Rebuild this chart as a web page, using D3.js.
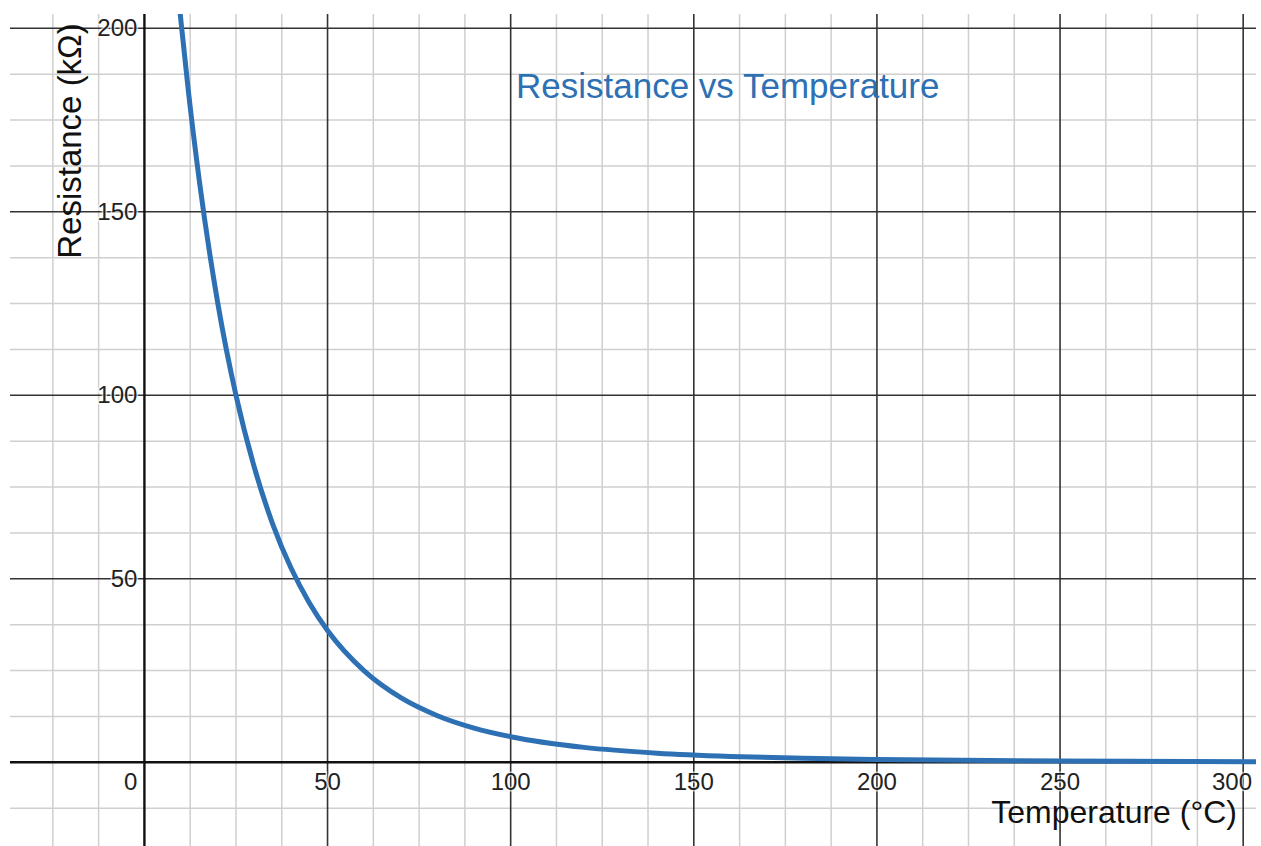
<!DOCTYPE html>
<html>

<head>
    <meta charset="utf-8">
    <title>Resistance vs Temperature</title>
    <script src="https://d3js.org/d3.v7.min.js"></script>
    <style>
        html,
        body {
            margin: 0;
            padding: 0;
            background: white;
        }

        svg text {
            font-family: "Liberation Sans", Arial, sans-serif;
        }
    </style>
</head>

<body>

    <div id="chart"></div>

    <script>
        // Curve samples (temperature in °C, resistance in kΩ)
        const temperatures = [9, 10, 12, 15, 20, 25, 30, 35, 40, 45, 50, 60, 70, 80, 90, 100, 120, 140, 160, 180, 200, 250, 305];
        const resistances = [212, 201.7, 182.9, 158.4, 125.3, 100, 80.4, 65.0, 53.0, 43.5, 35.9, 24.9, 17.6, 12.7, 9.33, 6.98, 4.07, 2.50, 1.61, 1.08, 0.75, 0.34, 0.16];

        // Tick labels
        const xTickLabels = [50, 100, 150, 200, 250, 300];
        const yTickLabels = [50, 100, 150, 200];

        const titleText = "Resistance vs Temperature";
        const xAxisTitle = "Temperature (°C)";
        const yAxisTitle = "Resistance (kΩ)";

        const width = 1261;
        const height = 846;
        const plot = { left: 10, top: 14, right: 1256, bottom: 846 };

        const svg = d3.select("#chart")
            .append("svg")
            .attr("width", width)
            .attr("height", height);

        svg.append("rect")
            .attr("width", width)
            .attr("height", height)
            .attr("fill", "white");

        // Scales
        const xScale = d3.scaleLinear()
            .domain([-36.7, 303.5])
            .range([plot.left, plot.right]);

        const yScale = d3.scaleLinear()
            .domain([-22.8, 203.9])
            .range([plot.bottom, plot.top]);

        const [x0, x1] = xScale.domain();
        const [y0, y1] = yScale.domain();

        // Grid steps
        const minorStep = 12.5;
        const majorStep = 50;

        const xMinor = d3.range(Math.ceil(x0 / minorStep) * minorStep, x1, minorStep);
        const yMinor = d3.range(Math.ceil(y0 / minorStep) * minorStep, y1, minorStep);

        const grid = svg.append("g");

        // minor grid
        grid.selectAll(".vminor")
            .data(xMinor.filter(d => d % majorStep !== 0))
            .enter().append("line")
            .attr("x1", d => xScale(d)).attr("x2", d => xScale(d))
            .attr("y1", plot.top).attr("y2", plot.bottom)
            .attr("stroke", "#cfcfcf").attr("stroke-width", 1.5);

        grid.selectAll(".hminor")
            .data(yMinor.filter(d => d % majorStep !== 0))
            .enter().append("line")
            .attr("y1", d => yScale(d)).attr("y2", d => yScale(d))
            .attr("x1", plot.left).attr("x2", plot.right)
            .attr("stroke", "#cfcfcf").attr("stroke-width", 1.5);

        // major grid
        grid.selectAll(".vmajor")
            .data(xMinor.filter(d => d % majorStep === 0 && d !== 0))
            .enter().append("line")
            .attr("x1", d => xScale(d)).attr("x2", d => xScale(d))
            .attr("y1", plot.top).attr("y2", plot.bottom)
            .attr("stroke", "#333").attr("stroke-width", 1.6);

        grid.selectAll(".hmajor")
            .data(yMinor.filter(d => d % majorStep === 0 && d !== 0))
            .enter().append("line")
            .attr("y1", d => yScale(d)).attr("y2", d => yScale(d))
            .attr("x1", plot.left).attr("x2", plot.right)
            .attr("stroke", "#333").attr("stroke-width", 1.6);

        // axes lines
        grid.append("line")
            .attr("x1", plot.left).attr("x2", plot.right)
            .attr("y1", yScale(0)).attr("y2", yScale(0))
            .attr("stroke", "#111").attr("stroke-width", 2.4);

        grid.append("line")
            .attr("x1", xScale(0)).attr("x2", xScale(0))
            .attr("y1", plot.top).attr("y2", plot.bottom)
            .attr("stroke", "#111").attr("stroke-width", 2.4);

        // Curve
        const points = temperatures.map((t, i) => ({ t: t, r: resistances[i] }));

        svg.append("clipPath")
            .attr("id", "clip")
            .append("rect")
            .attr("x", plot.left).attr("y", plot.top)
            .attr("width", plot.right - plot.left)
            .attr("height", plot.bottom - plot.top);

        const line = d3.line()
            .x(d => xScale(d.t))
            .y(d => yScale(d.r))
            .curve(d3.curveMonotoneX);

        svg.append("path")
            .datum(points)
            .attr("clip-path", "url(#clip)")
            .attr("fill", "none")
            .attr("stroke", "#2d70b3")
            .attr("stroke-width", 5)
            .attr("stroke-linejoin", "round")
            .attr("d", line);

        // Tick labels
        const labels = svg.append("g")
            .attr("font-size", "24px")
            .attr("fill", "#222");

        const xLabels = labels.selectAll(".xlab")
            .data(xTickLabels)
            .enter().append("text")
            .attr("x", d => xScale(d))
            .attr("y", yScale(0) + 28)
            .attr("text-anchor", "middle")
            .attr("stroke", "white")
            .attr("stroke-width", 3)
            .attr("stroke-opacity", 0.6)
            .attr("paint-order", "stroke")
            .text(d => d);

        // keep the last label inside the plot
        xLabels.each(function (d) {
            const w = this.getComputedTextLength();
            const cx = xScale(d);
            if (cx + w / 2 > plot.right - 4) {
                d3.select(this).attr("x", plot.right - 4 - w / 2);
            }
        });

        labels.append("text")
            .attr("x", xScale(0) - 7)
            .attr("y", yScale(0) + 28)
            .attr("text-anchor", "end")
            .text(0);

        labels.selectAll(".ylab")
            .data(yTickLabels)
            .enter().append("text")
            .attr("x", xScale(0) - 7)
            .attr("y", d => yScale(d) + 8)
            .attr("text-anchor", "end")
            .attr("stroke", "white")
            .attr("stroke-width", 3)
            .attr("stroke-opacity", 0.7)
            .attr("paint-order", "stroke")
            .text(d => d);

        // Axis titles
        svg.append("text")
            .attr("x", 1237)
            .attr("y", 823)
            .attr("text-anchor", "end")
            .attr("font-size", "32px")
            .attr("fill", "#111")
            .text(xAxisTitle);

        svg.append("text")
            .attr("transform", "translate(81, 141) rotate(-90)")
            .attr("text-anchor", "middle")
            .attr("font-size", "33px")
            .attr("fill", "#111")
            .text(yAxisTitle);

        // Title
        svg.append("text")
            .attr("x", 516)
            .attr("y", 98)
            .attr("font-size", "35px")
            .attr("fill", "#2d70b3")
            .text(titleText);
    </script>
</body>

</html>
